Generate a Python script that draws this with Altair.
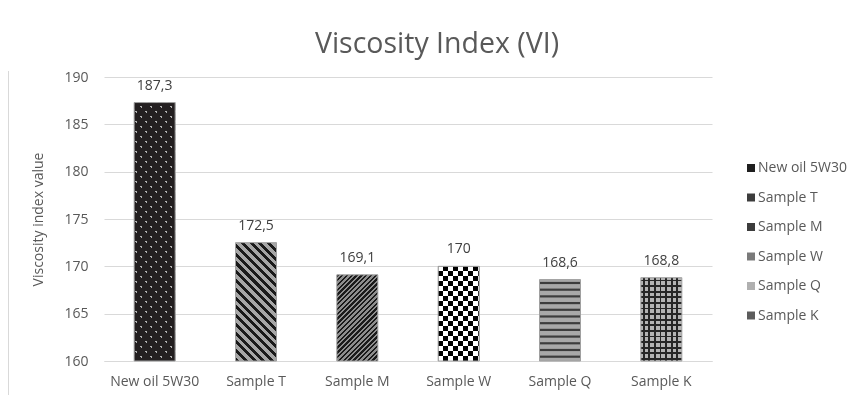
import math
import altair as alt
import pandas as pd

# ---- data ----
categories = ["New oil 5W30", "Sample T", "Sample M", "Sample W", "Sample Q", "Sample K"]
values = [187.3, 172.5, 169.1, 170.0, 168.6, 168.8]
labels = ["187,3", "172,5", "169,1", "170", "168,6", "168,8"]
y_ticks = [160, 165, 170, 175, 180, 185, 190]

# ---- styles ----
legend_colors = ["#1f1f1f", "#3c3c3c", "#3c3c3c", "#7a7a7a", "#b0b0b0", "#5c5c5c"]
FONT = "Open Sans"
TXT = "#595959"
PLOT_W, PLOT_H = 608, 284
BAR_W = 41
Y_MIN, Y_MAX = 160, 190

df = pd.DataFrame({"category": categories, "value": values, "label": labels})


def bar_h(v):
    return (v - Y_MIN) / (Y_MAX - Y_MIN) * PLOT_H


def periodic_stops(L, period, keys):
    stops = []
    k = 0
    done = False
    while not done:
        for p, c in keys:
            x = k * period + p
            off = min(x / L, 1.0)
            stops.append({"offset": round(off, 5), "color": c})
            if x >= L:
                done = True
                break
        k += 1
    return stops


def grad(direction, w, h, period, keys):
    if direction == "v":  # vertical stripes, varies along x
        L = w
        g = dict(x1=0, y1=0, x2=1, y2=0)
    elif direction == "h":  # horizontal stripes, varies along y
        L = h
        g = dict(x1=0, y1=0, x2=0, y2=1)
    else:
        a = (w + h) / (w * w + h * h)
        L = (w + h) / math.sqrt(2)
        if direction == "\\":
            g = dict(x1=0, y1=1, x2=w * a, y2=1 - h * a)
        else:  # "/"
            g = dict(x1=0, y1=0, x2=w * a, y2=h * a)
    out = {"gradient": "linear"}
    out.update({k: round(v, 5) for k, v in g.items()})
    out["stops"] = periodic_stops(L, period, keys)
    return out


x_enc = alt.X(
    "category:N",
    sort=categories,
    scale=alt.Scale(domain=categories, paddingInner=0, paddingOuter=0),
    axis=alt.Axis(
        title=None, labelAngle=0, labelFontSize=14, labelFont=FONT, labelColor=TXT,
        labelPadding=13, ticks=False, tickSize=0, domain=True, domainColor="#d9d9d9",
        grid=False,
    ),
)
y_enc = alt.Y(
    "value:Q",
    scale=alt.Scale(domain=[Y_MIN, Y_MAX], zero=False, nice=False),
    axis=alt.Axis(
        values=y_ticks, labelFontSize=14, labelFont=FONT, labelColor=TXT,
        labelPadding=16, ticks=False, tickSize=0, domain=False,
        gridColor="#d9d9d9", gridWidth=1,
        title="Viscosity index value", titleFontSize=14, titleFont=FONT,
        titleFontWeight="normal", titleColor=TXT, titleX=-66, titleY=PLOT_H / 2,
        titleAngle=270, titleAlign="center", titleBaseline="middle",
    ),
)

DARK = "#231f20"
CLEAR = "rgba(0,0,0,0)"


def layer_for(cat, fill, **kw):
    return (
        alt.Chart(df)
        .transform_filter(alt.datum.category == cat)
        .mark_bar(size=BAR_W, fill=fill, strokeWidth=0, **kw)
        .encode(x=x_enc, y=y_enc, y2=alt.datum(Y_MIN))
    )


h = {c: bar_h(v) for c, v in zip(categories, values)}
w = BAR_W
layers = []

# New oil: dark with light dots (intersection of two diagonal line sets)
pd_ = 7.07
dl = 2.0
layers.append(layer_for(categories[0], grad("/", w, h[categories[0]], pd_,
              [(0, "#b0b0b0"), (dl, "#b0b0b0"), (dl, DARK), (pd_, DARK)])))
layers.append(layer_for(categories[0], grad("\\", w, h[categories[0]], pd_,
              [(0, CLEAR), (dl, CLEAR), (dl, DARK), (pd_, DARK)])))
# Sample T: wide "\" stripes
pt = 6.2
layers.append(layer_for(categories[1], grad("\\", w, h[categories[1]], pt,
              [(0, "#1a1a1a"), (2.9, "#1a1a1a"), (2.9, "#a6a6a6"), (pt, "#a6a6a6")])))
# Sample M: narrow "/" stripes
pm = 3.4
layers.append(layer_for(categories[2], grad("/", w, h[categories[2]], pm,
              [(0, "#1a1a1a"), (1.7, "#1a1a1a"), (1.7, "#8e8e8e"), (pm, "#8e8e8e")])))
# Sample W: checkerboard via difference blend
pw = 10
layers.append(layer_for(categories[3], grad("v", w, h[categories[3]], pw,
              [(0, "#000000"), (5, "#000000"), (5, "#ffffff"), (pw, "#ffffff")])))
layers.append(layer_for(categories[3], grad("h", w, h[categories[3]], pw,
              [(0, "#ffffff"), (5, "#ffffff"), (5, "#000000"), (pw, "#000000")]),
              blend="difference"))
# Sample Q: gray with dark wavy bands
pq = 6.7
layers.append(layer_for(categories[4], grad("h", w, h[categories[4]], pq,
              [(0, "#a8a8a8"), (1.8, "#a8a8a8"), (2.8, "#3c3c3c"), (4.0, "#3c3c3c"),
               (5.0, "#a8a8a8"), (pq, "#a8a8a8")])))
# Sample K: grid
pk = 5.6
layers.append(layer_for(categories[5], grad("v", w, h[categories[5]], pk,
              [(0, "#b4b4b4"), (1.9, "#b4b4b4"), (1.9, "#262626"), (3.7, "#262626"),
               (3.7, "#b4b4b4"), (pk, "#b4b4b4")])))
layers.append(layer_for(categories[5], grad("h", w, h[categories[5]], pk,
              [(0, CLEAR), (1.9, CLEAR), (1.9, "#262626"), (3.7, "#262626"),
               (3.7, CLEAR), (pk, CLEAR)])))

# outline of all bars
outline = (
    alt.Chart(df)
    .mark_bar(size=BAR_W, fill="#ffffff", fillOpacity=0, stroke="#a0a0a0", strokeWidth=1)
    .encode(x=x_enc, y=y_enc, y2=alt.datum(Y_MIN))
)

text = (
    alt.Chart(df)
    .mark_text(dy=-17, fontSize=14, font=FONT, color="#404040", baseline="middle")
    .encode(x=x_enc, y=y_enc, text="label:N")
)

legend_layer = (
    alt.Chart(df)
    .mark_square(size=0)
    .encode(
        x=x_enc, y=y_enc,
        color=alt.Color(
            "category:N",
            sort=categories,
            scale=alt.Scale(domain=categories, range=legend_colors),
            legend=alt.Legend(
                title=None, orient="none", legendX=640, legendY=84,
                direction="vertical", symbolType="square", symbolSize=64,
                symbolStrokeWidth=0, symbolOpacity=1,
                labelFontSize=14, labelFont=FONT, labelColor=TXT,
                labelOffset=0, rowPadding=15.5, padding=0,
            ),
        ),
    )
)

frame = (
    alt.Chart(pd.DataFrame({"a": [0]}))
    .mark_rule(color="#d9d9d9", strokeWidth=1)
    .encode(x=alt.value(-95.5), y=alt.value(-6), y2=alt.value(318))
)

chart = (
    alt.layer(*layers, outline, text, legend_layer, frame)
    .properties(
        width=PLOT_W,
        height=PLOT_H,
        autosize=alt.AutoSizeParams(type="none"),
        padding={"left": 96, "top": 69, "right": 136, "bottom": 34},
        background="white",
        title=alt.TitleParams(
            "Viscosity Index (VI)", fontSize=28.5, font=FONT, color=TXT,
            fontWeight="normal", anchor="middle", frame="group",
            baseline="alphabetic", offset=15, dx=29, dy=26,
        ),
    )
    .configure_view(strokeWidth=0)
)

chart.save("out.html", embed_options={"renderer": "svg", "actions": False})
